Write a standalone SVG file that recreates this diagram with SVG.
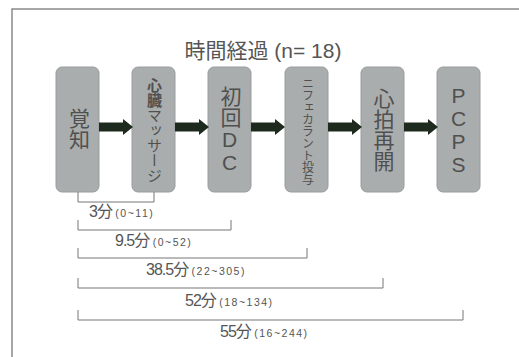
<svg xmlns="http://www.w3.org/2000/svg" width="519" height="357" viewBox="0 0 519 357">
<style>
.frame{fill:none;stroke:#8a8a8a;stroke-width:1.5}
.box{fill:#a9adad;stroke:#9a9d9d;stroke-width:1}
.vt{font-family:"Liberation Sans","Noto Sans CJK JP",sans-serif;fill:#505050;writing-mode:vertical-rl;text-orientation:upright;text-anchor:middle}
.title{font-family:"Liberation Sans","Noto Sans CJK JP",sans-serif;font-size:21px;fill:#555;text-anchor:middle}
.br{fill:none;stroke:#777;stroke-width:1}
.lab{font-family:"Liberation Sans","Noto Sans CJK JP",sans-serif;font-size:16px;fill:#555;letter-spacing:-1px}
.sm{font-size:10.5px;letter-spacing:1.5px}
.arr{fill:#1f2a1f}
</style>
<defs>
<path id="arrow" d="M0,-4.5 H24 V-8 L34,0 L24,8 V4.5 H0 Z"/>
</defs>
<path class="frame" d="M12,357 V9 H519"/>
<text class="title" x="263" y="58">時間経過 (n= 18)</text>
<g id="node1"><rect class="box" x="56" y="67" width="43" height="125" rx="6"/><text class="vt" x="78" y="129" font-size="21">覚知</text></g>
<g id="node2"><rect class="box" x="132" y="67" width="43" height="125" rx="6"/><text class="vt" x="153.5" y="130" font-size="15"><tspan font-weight="bold">心臓</tspan>マッサージ</text></g>
<g id="node3"><rect class="box" x="208" y="67" width="43" height="125" rx="6"/><text class="vt" x="229.5" y="130" font-size="21">初回DC</text></g>
<g id="node4"><rect class="box" x="285" y="67" width="43" height="125" rx="6"/><text class="vt" x="306.5" y="131" font-size="12">ニフェカラント投与</text></g>
<g id="node5"><rect class="box" x="361" y="67" width="43" height="125" rx="6"/><text class="vt" x="382.5" y="130" font-size="21">心拍再開</text></g>
<g id="node6"><rect class="box" x="437" y="67" width="43" height="125" rx="6"/><text class="vt" x="458.5" y="130" font-size="21">PCPS</text></g>
<g id="connectors">
<use class="arr" href="#arrow" x="99" y="127"/>
<use class="arr" href="#arrow" x="175" y="127"/>
<use class="arr" href="#arrow" x="251" y="127"/>
<use class="arr" href="#arrow" x="328" y="127"/>
<use class="arr" href="#arrow" x="404" y="127"/>
<path class="br" d="M78,192 V202 H154 V192"/>
<path class="br" d="M78,220 V230 H231 V220"/>
<path class="br" d="M78,248 V258 H307 V248"/>
<path class="br" d="M78,278 V288 H383 V278"/>
<path class="br" d="M78,310 V320 H463 V310"/>
</g>
<text class="lab" x="89" y="217">3分 <tspan class="sm">(0~11)</tspan></text>
<text class="lab" x="115" y="246">9.5分 <tspan class="sm">(0~52)</tspan></text>
<text class="lab" x="146" y="275">38.5分 <tspan class="sm">(22~305)</tspan></text>
<text class="lab" x="185" y="306">52分 <tspan class="sm">(18~134)</tspan></text>
<text class="lab" x="220" y="337">55分 <tspan class="sm">(16~244)</tspan></text>
</svg>
